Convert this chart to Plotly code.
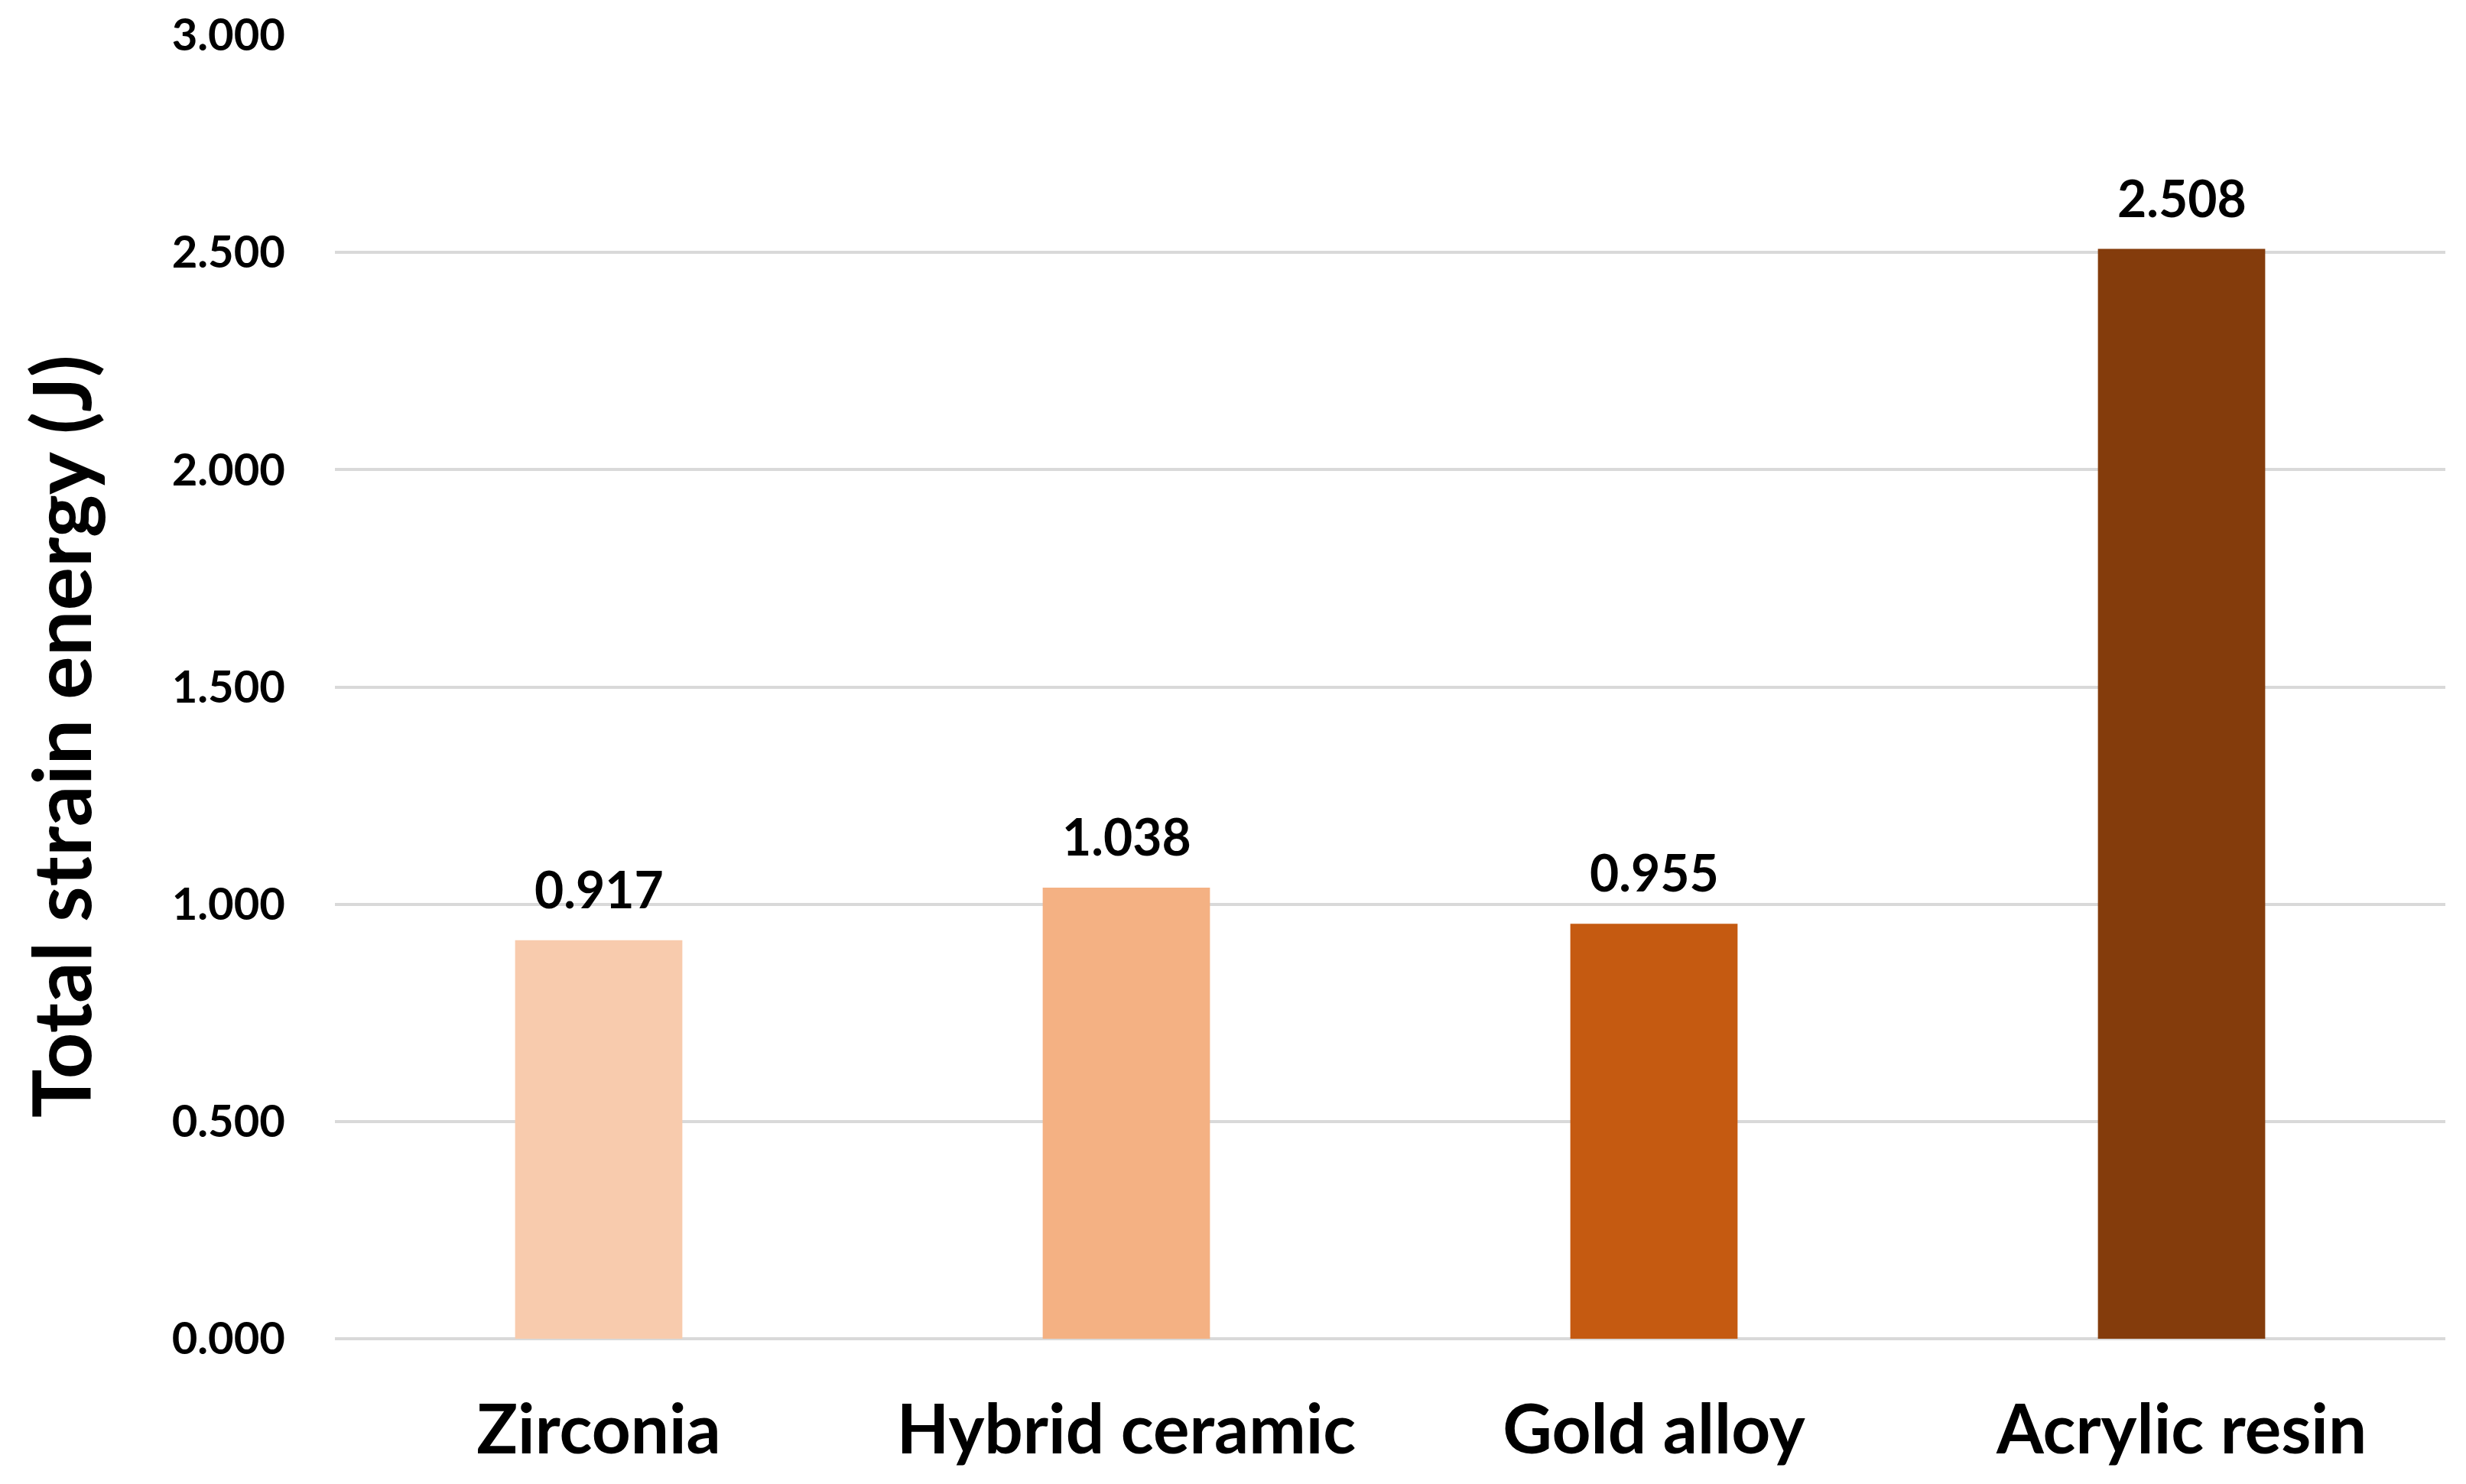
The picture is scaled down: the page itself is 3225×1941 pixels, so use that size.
import plotly.graph_objects as go

categories = ["Zirconia", "Hybrid ceramic", "Gold alloy", "Acrylic resin"]
values = [0.917, 1.038, 0.955, 2.508]
value_labels = ["0.917", "1.038", "0.955", "2.508"]
bar_colors = ["#F8CBAD", "#F4B183", "#C55A11", "#843C0C"]
tick_vals = [0, 0.5, 1.0, 1.5, 2.0, 2.5, 3.0]
tick_text = ["0.000", "0.500", "1.000", "1.500", "2.000", "2.500", "3.000"]
y_title = "Total strain energy (J)"

W, H = 3225, 1941
L, R, T, B = 430, 35, 38, 198

FONT = "Lato"

fig = go.Figure()
fig.add_trace(go.Bar(
    x=categories, y=values,
    marker=dict(color=bar_colors, line=dict(width=0)),
    hoverinfo="skip",
))

for c, v, t in zip(categories, values, value_labels):
    fig.add_annotation(
        x=c, y=v, text=f"<b>{t}</b>", showarrow=False,
        xanchor="center", yanchor="bottom", yshift=26,
        font=dict(family=FONT, size=66, color="#000000"),
    )

plot_w = W - L - R
plot_h = H - T - B
fig.add_annotation(
    xref="paper", yref="paper",
    x=(70 - L) / plot_w, y=(H - B - 955) / plot_h,
    text=f"<b>{y_title}</b>", textangle=-90, showarrow=False,
    xanchor="center", yanchor="middle", borderpad=0,
    font=dict(family=FONT, size=106, color="#000000"),
)

fig.update_layout(
    width=W, height=H,
    margin=dict(l=L, r=R, t=T, b=B, autoexpand=False),
    paper_bgcolor="white", plot_bgcolor="white",
    bargap=0.683,
    showlegend=False,
    xaxis=dict(
        showgrid=False, showline=False, zeroline=False,
        ticks="", tickfont=dict(family=FONT, size=89, color="#000000"),
        tickvals=categories, ticktext=[f"<b>{c}</b>" for c in categories],
        ticklabelstandoff=60,
    ),
    yaxis=dict(
        range=[0, 3.0],
        tickvals=tick_vals, ticktext=[f"<b>{t}</b>" for t in tick_text],
        tickfont=dict(family=FONT, size=58, color="#000000"),
        showgrid=True, gridcolor="#D9D9D9", gridwidth=4,
        zeroline=True, zerolinecolor="#D9D9D9", zerolinewidth=4,
        showline=False, ticks="", ticklabelstandoff=64,
    ),
)

fig.write_html("out.html")
